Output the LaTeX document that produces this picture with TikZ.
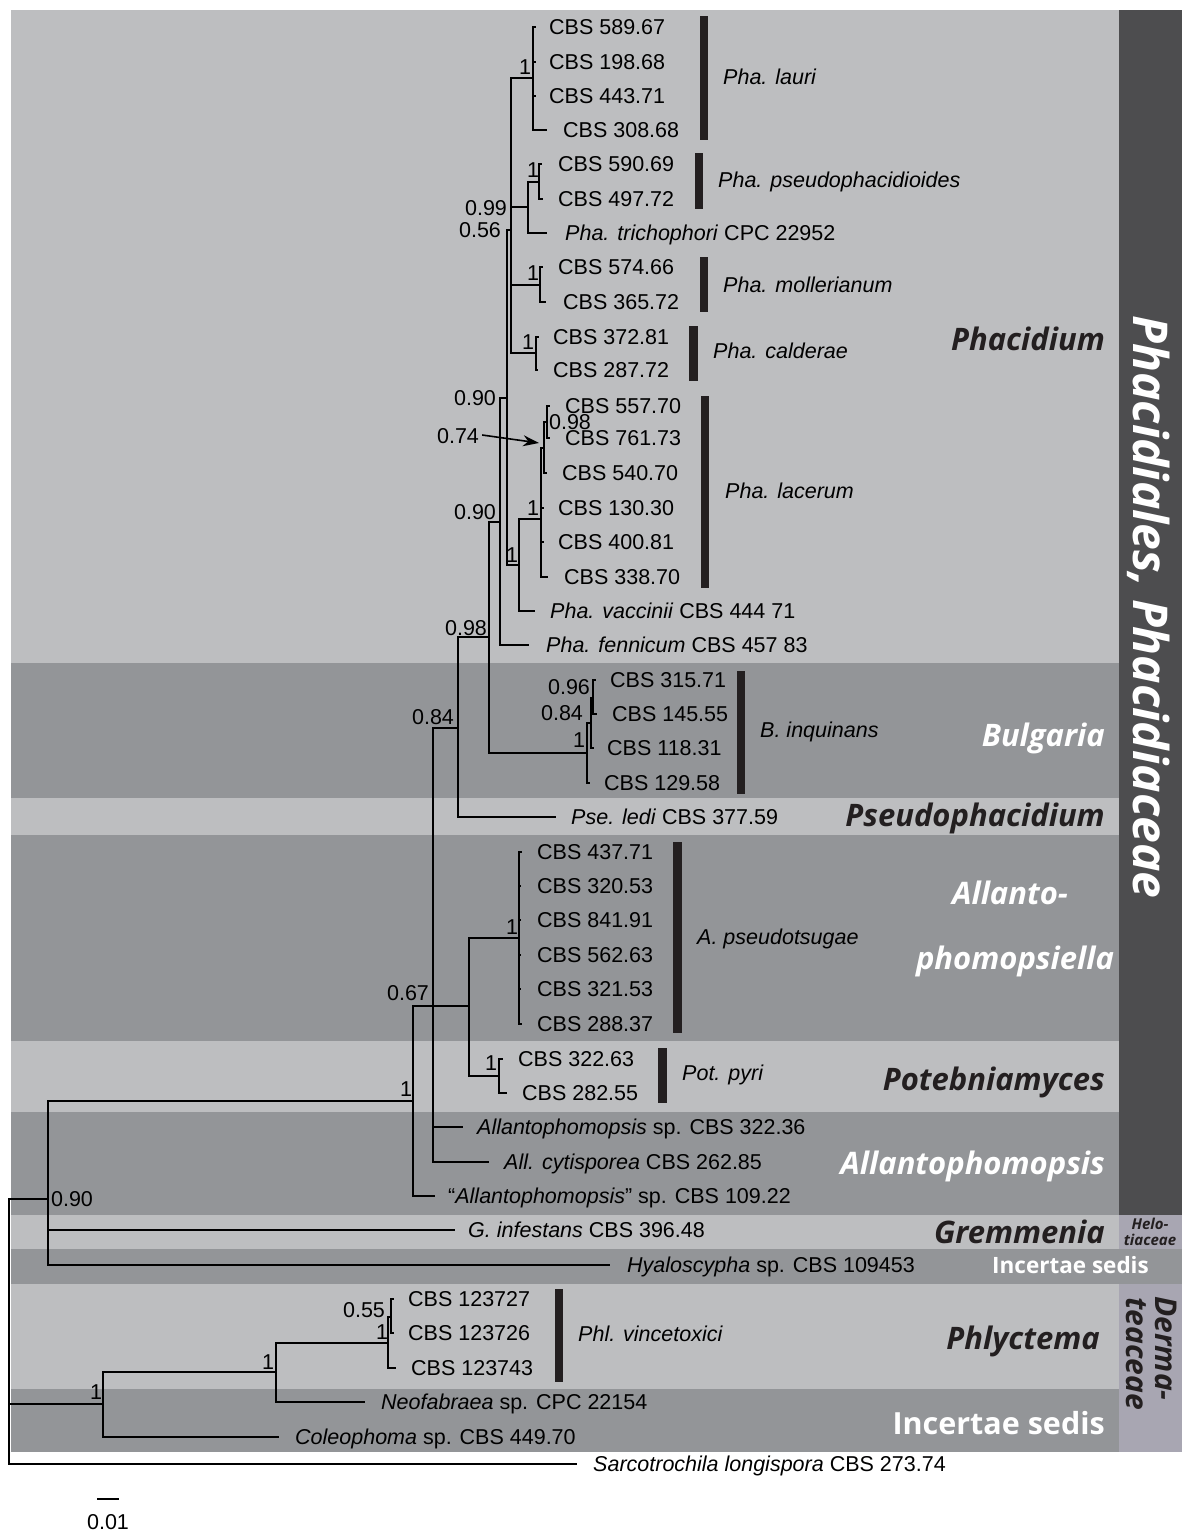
\documentclass[tikz,border=0pt]{standalone}
\usepackage{fontspec}
\setmainfont{Liberation Sans}
\newfontfamily\grpfont{Open Sans}
\usetikzlibrary{arrows.meta}
\definecolor{bandL}{HTML}{BDBEC0}
\definecolor{bandD}{HTML}{939598}
\definecolor{stripc}{HTML}{4D4D4F}
\definecolor{lav}{HTML}{A8A6B2}
\definecolor{ink}{HTML}{231F20}
\newcommand\inode[4]{\coordinate (#2) at (#3,#4); \draw[br] (#1) |- (#2);}
\newcommand\tipl[6]{\coordinate (#2) at (#3,#4); \draw[br] (#1) |- (#2); \node[tiplab] (#2l) at (#5,#4) {#6};}
\begin{document}
\begin{tikzpicture}[x=1pt,y=-1pt,
 br/.style={line width=1.8pt, black},
 tiplab/.style={anchor=west, inner sep=0pt, text height=15.4pt, text depth=0pt, font=\fontsize{21.5}{24}\selectfont},
 supp/.style={inner sep=0pt, text height=15.4pt, text depth=0pt, font=\fontsize{21.5}{24}\selectfont},
 splab/.style={anchor=west, inner sep=0pt, text height=15.4pt, text depth=0pt, font=\fontsize{21.5}{24}\selectfont\itshape},
 spbar/.style={fill=ink, draw=none},
 grp/.style={anchor=base east, inner sep=0pt, text=ink, font=\grpfont\fontsize{31}{34}\selectfont\bfseries\itshape},
 grpw/.style={grp, text=white},
]
\useasboundingbox (0,0) rectangle (1182,1537);
% ---------- bands ----------
\fill[white] (0,0) rectangle (1182,1537);
\fill[bandL] (11,10) rectangle (1119,663);
\fill[bandD] (11,663) rectangle (1119,798);
\fill[bandL] (11,798) rectangle (1119,835);
\fill[bandD] (11,835) rectangle (1119,1041);
\fill[bandL] (11,1041) rectangle (1119,1112);
\fill[bandD] (11,1112) rectangle (1119,1215);
\fill[bandL] (11,1215) rectangle (1119,1249);
\fill[bandD] (11,1249) rectangle (1182,1284);
\fill[bandL] (11,1284) rectangle (1119,1389);
\fill[bandD] (11,1389) rectangle (1119,1452);
\fill[stripc] (1119,10) rectangle (1182,1215);
\fill[lav] (1119,1215) rectangle (1182,1249);
\fill[lav] (1119,1284) rectangle (1182,1452);
% ---------- internal nodes ----------
\coordinate (root) at (9,1404);
\inode{root}{n090}{48}{1199}
\inode{n090}{nH}{413}{1101}
\inode{nH}{nF}{433}{1006}
\inode{nF}{nG}{469}{1006}
\inode{nG}{nAps}{519}{938}
\inode{nG}{nPot}{499}{1076}
\inode{nF}{n084}{458}{728}
\inode{n084}{nE}{489}{637}
\inode{nE}{nBul}{587}{753}
\inode{nBul}{nBulb}{591}{723}
\inode{nBulb}{nBulc}{593}{698}
\inode{nE}{nD}{500}{522}
\inode{nD}{nB}{507}{398}
\inode{nB}{nA}{511}{230}
\inode{nA}{nLau}{533}{78}
\inode{nA}{nPT}{528}{207}
\inode{nPT}{nPse}{539}{182}
\inode{nA}{nMol}{540}{285}
\inode{nA}{nCal}{536}{353}
\inode{nB}{nVL}{519}{565}
\inode{nVL}{nLac}{541}{519}
\inode{nLac}{nSevf}{544}{448}
\inode{nSevf}{nNie}{547}{422}
\inode{root}{nC1}{103}{1404}
\inode{nC1}{nC2}{276}{1372}
\inode{nC2}{nPhl}{388}{1343}
\inode{nPhl}{nPhlb}{391}{1317}
% ---------- tips ----------
\tipl{nLau}{t01}{536}{27}{549}{CBS 589.67}
\tipl{nLau}{t02}{536}{62}{549}{CBS 198.68}
\tipl{nLau}{t03}{536}{96}{549}{CBS 443.71}
\tipl{nLau}{t04}{547}{130}{563}{CBS 308.68}
\tipl{nPse}{t05}{542}{164}{558}{CBS 590.69}
\tipl{nPse}{t06}{543}{199}{558}{CBS 497.72}
\tipl{nPT}{t07}{547}{233}{565}{\textit{Pha. trichophori} CPC 22952}
\tipl{nMol}{t08}{543}{267}{558}{CBS 574.66}
\tipl{nMol}{t09}{546}{302}{563}{CBS 365.72}
\tipl{nCal}{t10}{539}{337}{553}{CBS 372.81}
\tipl{nCal}{t11}{538}{370}{553}{CBS 287.72}
\tipl{nNie}{t12}{550}{406}{565}{CBS 557.70}
\tipl{nNie}{t13}{550}{438}{565}{CBS 761.73}
\tipl{nSevf}{t14}{547}{473}{562}{CBS 540.70}
\tipl{nLac}{t15}{544}{508}{558}{CBS 130.30}
\tipl{nLac}{t16}{544}{542}{558}{CBS 400.81}
\tipl{nLac}{t17}{548}{577}{564}{CBS 338.70}
\tipl{nVL}{t18}{535}{611}{550}{\textit{Pha. vaccinii} CBS 444 71}
\tipl{nD}{t19}{529}{645}{546}{\textit{Pha. fennicum} CBS 457 83}
\tipl{nBulc}{t20}{596}{680}{610}{CBS 315.71}
\tipl{nBulc}{t21}{597}{714}{612}{CBS 145.55}
\tipl{nBulb}{t22}{594}{748}{607}{CBS 118.31}
\tipl{nBul}{t23}{590}{783}{604}{CBS 129.58}
\tipl{n084}{t24}{556}{817}{571}{\textit{Pse. ledi} CBS 377.59}
\tipl{nAps}{t25}{522}{852}{537}{CBS 437.71}
\tipl{nAps}{t26}{521}{886}{537}{CBS 320.53}
\tipl{nAps}{t27}{521}{920}{537}{CBS 841.91}
\tipl{nAps}{t28}{521}{955}{537}{CBS 562.63}
\tipl{nAps}{t29}{521}{989}{537}{CBS 321.53}
\tipl{nAps}{t30}{522}{1024}{537}{CBS 288.37}
\tipl{nPot}{t31}{503}{1059}{518}{CBS 322.63}
\tipl{nPot}{t32}{507}{1093}{522}{CBS 282.55}
\tipl{nF}{t33}{463}{1127}{477}{\textit{Allantophomopsis} sp. CBS 322.36}
\tipl{nF}{t34}{489}{1162}{504}{\textit{All. cytisporea} CBS 262.85}
\tipl{nH}{t35}{435}{1196}{448}{“\textit{Allantophomopsis}” sp. CBS 109.22}
\tipl{n090}{t36}{455}{1230}{468}{\textit{G. infestans} CBS 396.48}
\tipl{n090}{t37}{610}{1265}{627}{\textit{Hyaloscypha} sp. CBS 109453}
\tipl{nPhlb}{t38}{394}{1299}{408}{CBS 123727}
\tipl{nPhlb}{t39}{394}{1333}{408}{CBS 123726}
\tipl{nPhl}{t40}{396}{1368}{411}{CBS 123743}
\tipl{nC2}{t41}{365}{1402}{381}{\textit{Neofabraea} sp. CPC 22154}
\tipl{nC1}{t42}{279}{1437}{295}{\textit{Coleophoma} sp. CBS 449.70}
\tipl{root}{t43}{577}{1464}{593}{\textit{Sarcotrochila longispora} CBS 273.74}
% ---------- support values ----------
\node[supp] (s01) at (525,67) {1};
\node[supp] (s02) at (486,208) {0.99};
\node[supp] (s03) at (480,230) {0.56};
\node[supp] (s04) at (533,170) {1};
\node[supp] (s05) at (533,273) {1};
\node[supp] (s06) at (528,342) {1};
\node[supp] (s07) at (475,398) {0.90};
\node[supp] (s08) at (570,422) {0.98};
\node[supp] (s09) at (458,436) {0.74};
\node[supp] (s10) at (533,508) {1};
\node[supp] (s11) at (475,512) {0.90};
\node[supp] (s12) at (512,555) {1};
\node[supp] (s13) at (466,628) {0.98};
\node[supp] (s14) at (569,687) {0.96};
\node[supp] (s15) at (562,713) {0.84};
\node[supp] (s16) at (579,740) {1};
\node[supp] (s17) at (433,717) {0.84};
\node[supp] (s18) at (512,927) {1};
\node[supp] (s19) at (408,993) {0.67};
\node[supp] (s20) at (491,1063) {1};
\node[supp] (s21) at (406,1089) {1};
\node[supp] (s22) at (72,1199) {0.90};
\node[supp] (s23) at (364,1310) {0.55};
\node[supp] (s24) at (382,1332) {1};
\node[supp] (s25) at (268,1362) {1};
\node[supp] (s26) at (96,1392) {1};
\coordinate (arrtip) at (539,443);
\draw[line width=1.6pt, -{Stealth[length=16pt,width=11pt]}] (s09.east) ++(3,-1) -- (arrtip);
% ---------- species bars ----------
\fill[spbar] (700,16) rectangle (708,140);
\node[splab] (sp1) at (723,77) {Pha. lauri};
\fill[spbar] (695,153) rectangle (703,209);
\node[splab] (sp2) at (718,180) {Pha. pseudophacidioides};
\fill[spbar] (700,257) rectangle (708,312);
\node[splab] (sp3) at (723,285) {Pha. mollerianum};
\fill[spbar] (689,326) rectangle (698,381);
\node[splab] (sp4) at (713,351) {Pha. calderae};
\fill[spbar] (701,396) rectangle (709,588);
\node[splab] (sp5) at (725,491) {Pha. lacerum};
\fill[spbar] (737,671) rectangle (745,794);
\node[splab] (sp6) at (760,730) {B. inquinans};
\fill[spbar] (673,842) rectangle (682,1033);
\node[splab] (sp7) at (697,937) {A. pseudotsugae};
\fill[spbar] (658,1048) rectangle (667,1103);
\node[splab] (sp8) at (682,1073) {Pot. pyri};
\fill[spbar] (555,1289) rectangle (563,1382);
\node[splab] (sp9) at (578,1334) {Phl. vincetoxici};
% ---------- group labels ----------
\node[grp] (g1) at (1105,350) {Phacidium};
\node[grpw] (g2) at (1105,746) {Bulgaria};
\node[grp] (g3) at (1105,826) {Pseudophacidium};
\node[grpw, anchor=base] (g4a) at (1010,904) {Allanto-};
\node[grpw, anchor=base] (g4b) at (1015,969) {phomopsiella};
\node[grp] (g5) at (1105,1090) {Potebniamyces};
\node[grpw] (g6) at (1105,1174) {Allantophomopsis};
\node[grp] (g7) at (1105,1243) {Gremmenia};
\node[grpw, font=\grpfont\fontsize{22.5}{24}\selectfont\bfseries] (g8) at (1149,1273) {Incertae sedis};
\node[grp] (g9) at (1100,1349) {Phlyctema};
\node[grpw, font=\grpfont\fontsize{30.5}{34}\selectfont\bfseries] (g10) at (1105,1434) {Incertae sedis};
\node[grp, anchor=base, font=\grpfont\fontsize{15}{18}\selectfont\bfseries\itshape] (h1) at (1150,1229) {Helo-};
\node[grp, anchor=base, font=\grpfont\fontsize{15}{18}\selectfont\bfseries\itshape] (h2) at (1150,1245) {tiaceae};
\node[grp, anchor=base west, rotate=-90, font=\grpfont\fontsize{30}{32}\selectfont\bfseries\itshape] (d1) at (1155,1296) {Derma-};
\node[grp, anchor=base west, rotate=-90, font=\grpfont\fontsize{30}{32}\selectfont\bfseries\itshape] (d2) at (1126,1297) {teaceae};
\node[grpw, anchor=base, rotate=-90, font=\grpfont\fontsize{48}{50}\selectfont\bfseries\itshape] (ord) at (1133,607) {Phacidiales, Phacidiaceae};
% ---------- scale bar ----------
\coordinate (sb1) at (97,1499);
\coordinate (sb2) at (119,1499);
\draw[line width=2pt] (sb1) -- (sb2);
\node[supp] (sbl) at (108,1522) {0.01};
\end{tikzpicture}
\end{document}
